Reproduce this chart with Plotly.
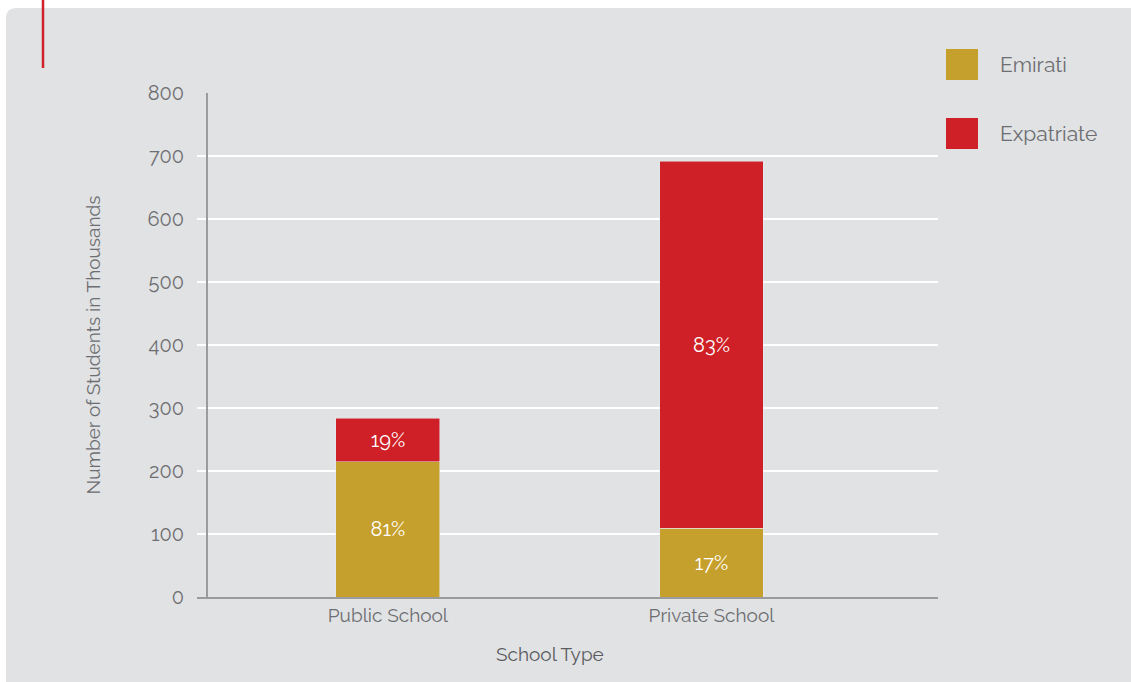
import plotly.graph_objects as go

categories = ["Public School", "Private School"]
emirati = [215, 109]
expatriate = [69, 583]
emirati_labels = ["81%", "17%"]
expatriate_labels = ["19%", "83%"]
y_ticks = [0, 100, 200, 300, 400, 500, 600, 700, 800]

GOLD = "#C6A02C"
RED = "#CF2027"
TXT = "#6D6E71"
FONT = "Raleway, Lato, 'Open Sans', sans-serif"

# plot area geometry (pixels) for paper-coordinate decorations
L, R, T, B = 197, 938, 93, 597
W, H = R - L, B - T
def px(x):
    return (x - L) / W
def py(y):
    return (B - y) / H

fig = go.Figure()
fig.add_trace(go.Bar(
    x=categories, y=emirati, name="Emirati", marker_color=GOLD,
    text=emirati_labels, textposition="inside", insidetextanchor="middle",
    textangle=0, textfont=dict(color="white", size=20, family=FONT),
    showlegend=False, hoverinfo="skip"))
fig.add_trace(go.Bar(
    x=categories, y=expatriate, name="Expatriate", marker_color=RED,
    text=expatriate_labels, textposition="inside", insidetextanchor="middle",
    textangle=0, textfont=dict(color="white", size=20, family=FONT),
    showlegend=False, hoverinfo="skip"))

# rounded grey panel
r = 10
x0, y0 = px(6), py(8)
x1, y1 = px(1140), py(690)
rx, ry = r / W, r / H
panel = (f"M {x0},{y1} L {x0},{y0 - ry} Q {x0},{y0} {x0 + rx},{y0} "
         f"L {x1},{y0} L {x1},{y1} Z")
shapes = [
    dict(type="path", xref="paper", yref="paper", path=panel,
         fillcolor="#E1E2E4", line=dict(width=0), layer="below"),
    dict(type="line", xref="paper", yref="paper",
         x0=px(43), x1=px(43), y0=py(-2), y1=py(68),
         line=dict(color="#D0202A", width=2.5)),
]
annotations = []
# custom legend
legend_items = [("Emirati", GOLD, 49), ("Expatriate", RED, 118)]
for name, col, top in legend_items:
    shapes.append(dict(type="rect", xref="paper", yref="paper",
                       x0=px(946), x1=px(978), y0=py(top), y1=py(top + 31),
                       fillcolor=col, line=dict(width=0)))
    annotations.append(dict(xref="paper", yref="paper", x=px(998),
                            y=py(top + 15.5), text=name, showarrow=False,
                            xanchor="left", yanchor="middle",
                            font=dict(size=21, color=TXT, family=FONT)))
# x axis title
annotations.append(dict(xref="paper", yref="paper", x=px(550), y=py(654),
                        text="School Type", showarrow=False,
                        xanchor="center", yanchor="middle",
                        font=dict(size=19, color="#5A5B5E", family=FONT)))

fig.update_layout(
    width=1131, height=682,
    margin=dict(l=L, r=1131 - R, t=T, b=682 - B),
    paper_bgcolor="white", plot_bgcolor="rgba(0,0,0,0)",
    barmode="stack", bargap=0.679,
    shapes=shapes, annotations=annotations,
    font=dict(family=FONT, color=TXT),
    uniformtext=dict(mode="show", minsize=12),
)
fig.update_xaxes(
    type="category", range=[-0.59, 1.70], showgrid=False,
    showline=True, linecolor="#9A9B9D", linewidth=2,
    ticks="", tickfont=dict(size=19, color=TXT, family=FONT),
    fixedrange=True)
fig.update_yaxes(
    range=[0, 800], tickvals=y_ticks, showgrid=True, gridcolor="white",
    gridwidth=1.5, zeroline=False, showline=True, linecolor="#9A9B9D",
    linewidth=2, anchor="free", position=(207 - L) / W,
    ticks="outside", ticklen=18, tickcolor="rgba(0,0,0,0)",
    tickfont=dict(size=20, color=TXT, family=FONT),
    title=dict(text="Number of Students in Thousands", standoff=41,
               font=dict(size=19, color=TXT, family=FONT)),
    fixedrange=True)

fig.write_html("out.html", config={"displayModeBar": False},
               post_script="document.body.style.margin='0';")
